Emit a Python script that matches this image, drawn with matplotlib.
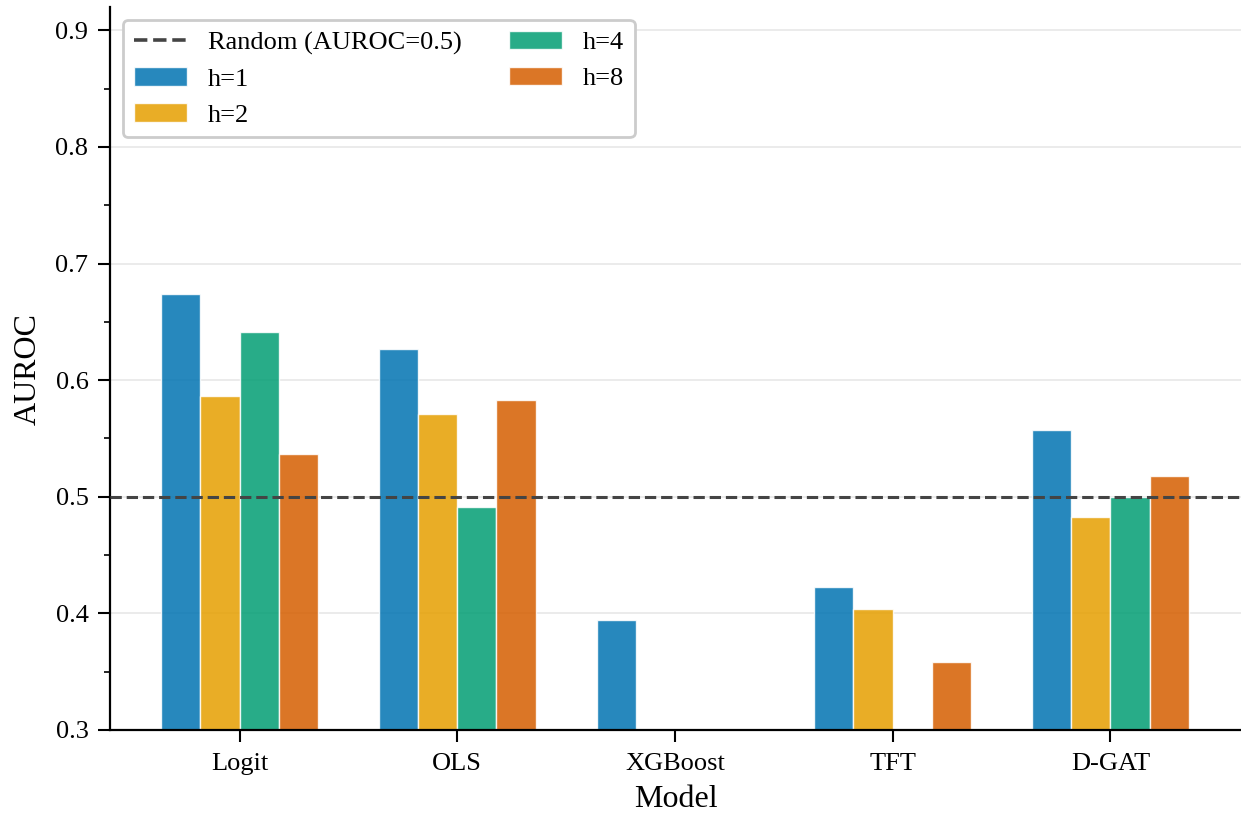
import matplotlib
matplotlib.use("Agg")
import matplotlib.pyplot as plt
import numpy as np
from matplotlib.lines import Line2D
from matplotlib.ticker import MultipleLocator

plt.rcParams['font.family'] = ['Liberation Serif', 'DejaVu Serif']

models = ["Logit", "OLS", "XGBoost", "TFT", "D-GAT"]
horizons = ["h=1", "h=2", "h=4", "h=8"]

# AUROC per model for each forecast horizon (nan = no score)
auroc_h1 = [0.674, 0.627, 0.394, 0.423, 0.557]
auroc_h2 = [0.586, 0.571, np.nan, 0.404, 0.483]
auroc_h4 = [0.641, 0.491, np.nan, np.nan, 0.500]
auroc_h8 = [0.537, 0.583, np.nan, 0.358, 0.518]

colors = ["#0173B2", "#E69F00", "#029E73", "#D55E00"]

fig = plt.figure(figsize=(12.41, 8.15), dpi=100)
ax = fig.add_axes([110 / 1241, 1 - 730 / 815, 1 - 110 / 1241, (730 - 7) / 815])

x = np.arange(len(models))
width = 0.18
series = [auroc_h1, auroc_h2, auroc_h4, auroc_h8]
for i, (vals, label, color) in enumerate(zip(series, horizons, colors)):
    ax.bar(x + (i - 1.5) * width, vals, width, label=label, color=color,
           alpha=0.85, edgecolor="white", linewidth=1.0, zorder=2)

ax.axhline(0.5, color="#444444", linestyle="--", linewidth=2.2, zorder=3)

ax.set_ylim(0.3, 0.92)
ax.set_xlim(-0.595, 4.6)
ax.set_xticks(x)
ax.set_xticklabels(models)
ax.yaxis.set_major_locator(MultipleLocator(0.1))
ax.yaxis.set_minor_locator(MultipleLocator(0.05))
ax.yaxis.grid(True, which="major", color="#e8e8e8", linewidth=1.2, zorder=0)
ax.set_axisbelow(True)

ax.tick_params(axis="both", which="major", labelsize=19, length=8.5,
               width=1.5, pad=7)
ax.tick_params(axis="x", which="major", pad=8)
ax.tick_params(axis="y", which="minor", length=4, width=1.2)

for side in ["top", "right"]:
    ax.spines[side].set_visible(False)
for side in ["left", "bottom"]:
    ax.spines[side].set_linewidth(1.6)

ax.set_xlabel("Model", fontsize=23, labelpad=7)
ax.set_ylabel("AUROC", fontsize=23, labelpad=9)

handles, labels = ax.get_legend_handles_labels()
rand = Line2D([0], [0], color="#444444", linestyle="--", linewidth=2.6)
leg = ax.legend([rand] + handles, ["Random (AUROC=0.5)"] + labels,
                loc="upper left", ncol=2, fontsize=19, frameon=True,
                fancybox=True, edgecolor="#cccccc", framealpha=1.0,
                borderaxespad=0.5, columnspacing=1.8, labelspacing=0.48)
leg.get_frame().set_linewidth(2.0)

fig.savefig("out.png", dpi=100)
